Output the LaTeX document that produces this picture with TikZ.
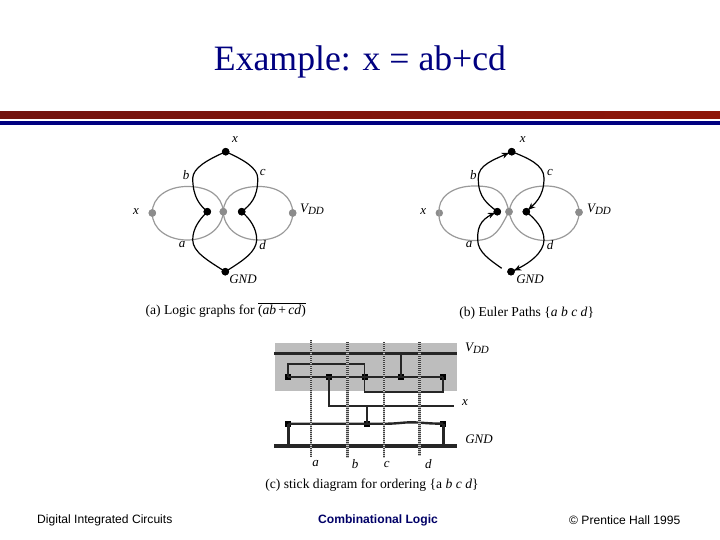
\documentclass[tikz,border=0pt]{standalone}
\usepackage{fontspec}
\setmainfont{Liberation Serif}
\setsansfont{Liberation Sans}
\usetikzlibrary{arrows.meta,decorations.markings}
\definecolor{navy}{HTML}{000080}
\definecolor{barred}{HTML}{7F1510}
\definecolor{barredb}{HTML}{8E1608}
\definecolor{gedge}{HTML}{9A9A9A}
\definecolor{gfill}{HTML}{BDBDBD}
\newcommand{\vdd}{\textit{V}\raisebox{-2pt}{\fontsize{11}{12}\selectfont\textit{DD}}}
\tikzset{
  x=1pt,y=-1pt,
  blk/.style={circle,fill=black,inner sep=0pt,minimum size=7.5pt},
  gry/.style={circle,fill=gray!90,inner sep=0pt,minimum size=7.5pt},
  bedge/.style={draw=black,line width=1.2pt},
  gryedge/.style={draw=gedge,line width=1.2pt},
  lab/.style={font=\fontsize{13}{15}\selectfont\itshape,inner sep=0pt},
  captxt/.style={font=\fontsize{13.6}{15}\selectfont,inner sep=0pt},
  foot/.style={font=\fontsize{12.1}{14}\selectfont\sffamily,inner sep=0pt,text=black},
  rail/.style={line width=3.2pt,draw=black!85},
  diff/.style={line width=2.4pt,draw=black!85},
  wire/.style={line width=1.8pt,draw=black!85},
  poly/.style={line width=2.6pt,draw=black!75,dash pattern=on 1pt off 1pt},
  polyb/.style={line width=2.6pt,draw=gray!45},
  cont/.style={rectangle,fill=black,inner sep=0pt,minimum size=6pt},
  arr/.style={postaction={decorate},decoration={markings,mark=at position 0.93 with {\arrow{Stealth[length=7pt,width=6pt]}}}}
}
\begin{document}
\begin{tikzpicture}
\useasboundingbox (0,0) rectangle (720,540);
\fill[white] (0,0) rectangle (720,540);
% title
\node[inner sep=0pt,text=navy,font=\fontsize{35.7}{40}\selectfont] (title) at (360,61.5) {Example: x = ab+cd};
% bars
\shade[left color=barred!90!black,right color=barredb] (0,112) rectangle (720,118.5);
\fill[navy] (0,121) rectangle (720,125);
% ---- (a)
\node[gry] (axl) at (152.3,213) {};
\node[gry] (acn) at (223.3,211.7) {};
\node[gry] (avd) at (292.7,213) {};
\node[blk] (atp) at (225.7,151.7) {};
\node[blk] (agn) at (225.3,271.7) {};
\node[blk] (abl) at (207.3,211.7) {};
\node[blk] (abr) at (241.7,211.7) {};
\coordinate (apb) at (192.7,178.3);
\coordinate (apc) at (257.7,178.3);
\coordinate (apa) at (192.7,240);
\coordinate (apd) at (256.7,240);
\coordinate (alt) at (187,186.5);
\coordinate (alb) at (187,240);
\coordinate (art) at (259,186.5);
\coordinate (arb) at (259,240);
\path[gryedge] (axl.center) .. controls (152,197) and (168,186.5) .. (alt) .. controls (208,186.5) and (222,195) .. (acn.center);
\path[gryedge] (axl.center) .. controls (152,229) and (168,240) .. (alb) .. controls (208,240) and (222,228) .. (acn.center);
\path[gryedge] (acn.center) .. controls (224,195) and (238,186.5) .. (art) .. controls (279,186.5) and (292.7,197) .. (avd.center);
\path[gryedge] (acn.center) .. controls (224,228) and (238,240) .. (arb) .. controls (279,240) and (292.7,229) .. (avd.center);
\path[bedge] (atp.center) .. controls (207,160) and (193,168) .. (apb) .. controls (193,198) and (200,205) .. (abl.center);
\path[bedge] (atp.center) .. controls (244,160) and (257.7,168) .. (apc) .. controls (258,198) and (250,205) .. (abr.center);
\path[bedge] (abl.center) .. controls (200,219) and (192.7,228) .. (apa) .. controls (193,252) and (207,260) .. (agn.center);
\path[bedge] (abr.center) .. controls (250,219) and (256.7,228) .. (apd) .. controls (256,252) and (244,260) .. (agn.center);
\node[gry] at (axl) {}; \node[gry] at (acn) {}; \node[gry] at (avd) {};
\node[blk] at (atp) {}; \node[blk] at (agn) {}; \node[blk] at (abl) {}; \node[blk] at (abr) {};
\node[lab] (lax) at (235,139.5) {x};
\node[lab] (lab) at (186,175) {b};
\node[lab] (lac) at (262.7,172.5) {c};
\node[lab] (lax2) at (136,211.5) {x};
\node[lab] (lav) at (312,209.5) {\vdd};
\node[lab] (laa) at (182,245) {a};
\node[lab] (lad) at (262.7,245) {d};
\node[lab] (lag) at (243,279) {GND};
\node[captxt] (capa) at (225.7,310) {(a) Logic graphs for $\overline{\hbox{(\textit{ab}\,+\,\textit{cd})}}$};
% ---- (b)
\node[gry] (bxl) at (439.3,213) {};
\node[gry] (bcn) at (509,211.7) {};
\node[gry] (bvd) at (579,212.3) {};
\node[blk] (btp) at (511.7,151.7) {};
\node[blk] (bgn) at (511,271.7) {};
\node[blk] (bbl) at (497.3,211.7) {};
\node[blk] (bbr) at (526.3,211.7) {};
\coordinate (bpb) at (478.3,178);
\coordinate (bpc) at (544,178);
\coordinate (bpa) at (477.7,240);
\coordinate (bpd) at (544,240);
\coordinate (blt) at (474,186);
\coordinate (blb) at (474,240.5);
\coordinate (brt) at (546,186);
\coordinate (brb) at (546,240.5);
\coordinate (bge) at (501.7,268.3);
\path[gryedge] (bxl.center) .. controls (437,198) and (452,186) .. (blt) .. controls (495,186) and (504,190) .. (bcn.center);
\path[gryedge] (bxl.center) .. controls (437,228) and (452,240.5) .. (blb) .. controls (496,240.5) and (500,228) .. (bcn.center);
\path[gryedge] (bcn.center) .. controls (512,195) and (525,186) .. (brt) .. controls (566,186) and (579,198) .. (bvd.center);
\path[gryedge] (bcn.center) .. controls (512,228) and (525,240.5) .. (brb) .. controls (566,240.5) and (579,228) .. (bvd.center);
\path[bedge,arr] (bpb) .. controls (478,165) and (493,160) .. (btp.center);
\path[bedge] (bpb) .. controls (478,198) and (488,204) .. (bbl.center);
\path[bedge] (btp.center) .. controls (528,158) and (544,165) .. (bpc);
\path[bedge,arr] (bpc) .. controls (544,198) and (534,204) .. (bbr.center);
\path[bedge,arr] (bpa) .. controls (477,224) and (483,218) .. (bbl.center);
\path[bedge] (bge) .. controls (490,260) and (477.7,252) .. (bpa);
\path[bedge] (bbr.center) .. controls (535,219) and (544,228) .. (bpd);
\path[bedge,arr] (bpd) .. controls (544,252) and (530,264) .. (bgn.center);
\node[gry] at (bcn) {}; \node[gry] at (bvd) {};
\node[blk] at (btp) {}; \node[blk] at (bgn) {}; \node[blk] at (bbl) {}; \node[blk] at (bbr) {};
\node[lab] (lbx) at (522.7,139.5) {x};
\node[lab] (lbb) at (473.3,175) {b};
\node[lab] (lbc) at (550,172.5) {c};
\node[lab] (lbx2) at (423.3,211.5) {x};
\node[lab] (lbv) at (599,209.5) {\vdd};
\node[lab] (lba) at (469,245) {a};
\node[lab] (lbd) at (550,245) {d};
\node[lab] (lbg) at (530,279) {GND};
\node[captxt] (capb) at (526.7,313.3) {(b) Euler Paths \{\textit{a b c d}\}};
% ---- (c)
\fill[gfill] (275,342.7) rectangle (457.3,391);
\coordinate (vl) at (274,353.7); \coordinate (vr) at (457.3,353.7);
\coordinate (gl) at (274,446);   \coordinate (gr) at (457.3,446);
\coordinate (xe) at (454,406);
\node[cont] (u1) at (288.3,377) {};
\node[cont] (u2) at (329,377) {};
\node[cont] (u3) at (364.5,377) {};
\node[cont] (u4) at (401,377) {};
\node[cont] (u5) at (443.3,377) {};
\node[cont] (l1) at (288.3,423.7) {};
\node[cont] (l2) at (366.7,423.7) {};
\node[cont] (l3) at (443.3,423.7) {};
\coordinate (hook) at (364.5,364);
\coordinate (hook2) at (443.3,391.7);
\draw[rail] (vl) -- (vr);
\draw[rail] (gl) -- (gr);
\draw[diff] (u1.center) -- (u5.center);
\draw[diff] (u4.center) -- (401,353.7);
\draw[wire] (u1.center) |- (hook) -- (u3.center);
\draw[wire] (u3.center) |- (hook2) -- (u5.center);
\draw[wire] (u2.center) |- (xe);
\draw[wire] (l2.center) -- (366.7,406);
\draw[diff] (l1.center) -- (l2.center) -- (388,423.7) .. controls (398,423.5) and (404,422.3) .. (411,422.3) .. controls (420,422.3) and (428,423.7) .. (l3.center);
\draw[diff] (l1.center) -- (288.3,446);
\draw[diff] (l3.center) -- (443.3,446);
\foreach \px/\ya/\yb in {311/340/457,347.5/342/458,384/342/458,419.5/342/456}{
  \draw[polyb] (\px,\ya) -- (\px,\yb);
  \draw[poly] (\px,\ya) -- (\px,\yb);
}
\node[lab] (lcv) at (477,348.5) {\vdd};
\node[lab] (lcg) at (479,439.3) {GND};
\node[lab] (lcx) at (465,403) {x};
\node[lab] (lca) at (315.7,464) {a};
\node[lab] (lcb) at (355,464) {b};
\node[lab] (lcc) at (386.7,464) {c};
\node[lab] (lcd) at (428.3,464) {d};
\node[captxt] (capc) at (372,485) {(c) stick diagram for ordering \{a \textit{b c d}\}};
% footer
\node[foot,anchor=west] (f1) at (37,520.5) {Digital Integrated Circuits};
\node[foot,anchor=west,text=navy!80!black,font=\fontsize{12.1}{14}\selectfont\sffamily\bfseries] (f2) at (318,520.5) {Combinational Logic};
\node[foot,anchor=west] (f3) at (569,520.5) {© Prentice Hall 1995};
\end{tikzpicture}
\end{document}
